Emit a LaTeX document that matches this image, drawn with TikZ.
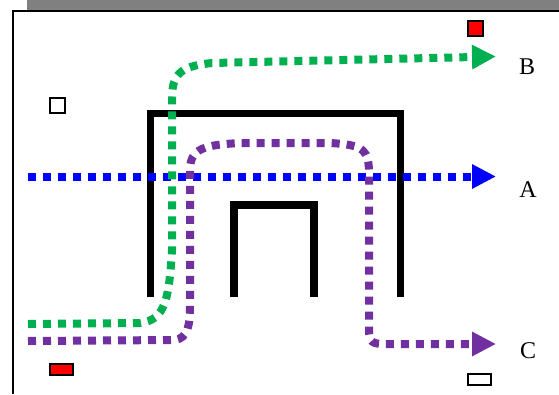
\documentclass[tikz,border=0pt]{standalone}
\usepackage{fontspec}
\setmainfont{Liberation Serif}
\usetikzlibrary{arrows.meta}
\definecolor{routeGreen}{RGB}{0,176,80}
\definecolor{routeBlue}{RGB}{0,0,255}
\definecolor{routePurple}{RGB}{112,48,160}
\definecolor{shadowGray}{RGB}{128,128,128}

\begin{document}
\begin{tikzpicture}[x=1pt,y=-1pt,
	route/.style={line width=8pt, dash pattern=on 8pt off 7pt, -{Triangle[length=24pt,width=23pt]}},
	wall/.style={line width=7pt},
	marker/.style={draw=black, line width=1.8pt},
	exitlabel/.style={font=\fontsize{24}{28}\selectfont, inner sep=0pt}]
	\useasboundingbox (0,0) rectangle (559,394);
	
	% Frame and shadow
	\fill[shadowGray] (27,0) rectangle (559,10);
	\draw[line width=2.5pt] (13,394) -- (13,11) -- (559,11);
	
	% Markers
	\draw[marker, fill=red] (468,21) rectangle (483,36);
	\draw[marker, fill=white] (50,98) rectangle (65,113);
	\draw[marker, fill=red] (50,364) rectangle (73,375);
	\draw[marker, fill=white] (468,374) rectangle (491,385);
	
	% Walls
	\draw[wall] (150,297) -- (150,113) -- (400,113) -- (400,297);
	\draw[wall, line width=7.5pt] (234,297) -- (234,205) -- (314,205) -- (314,297);
	
	% Exits
	\node[exitlabel] (labB) at (527,67) {B};
	\node[exitlabel] (labA) at (528,190) {A};
	\node[exitlabel] (labC) at (528,351) {C};
	\coordinate (tipB) at (496,56.5);
	\coordinate (tipA) at (496,176.5);
	\coordinate (tipC) at (496,344);
	
	% Routes
	\draw[route, routeBlue] (28,176.5) -- (tipA);
	\draw[route, routeGreen] (28,324) -- (140,323)
		.. controls (165,320) and (169,300) .. (172,250) -- (172,98)
		.. controls (172,72) and (183,66) .. (212,63) -- (tipB);
	\draw[route, routePurple] (28,341) -- (175,340)
		.. controls (188,338) and (190,325) .. (190,305) -- (190,170)
		.. controls (190,148) and (205,145) .. (240,143) -- (330,143)
		.. controls (365,145) and (369,150) .. (369,175) -- (369,330)
		.. controls (369,342) and (372,344) .. (385,344) -- (tipC);
\end{tikzpicture}
\end{document}
